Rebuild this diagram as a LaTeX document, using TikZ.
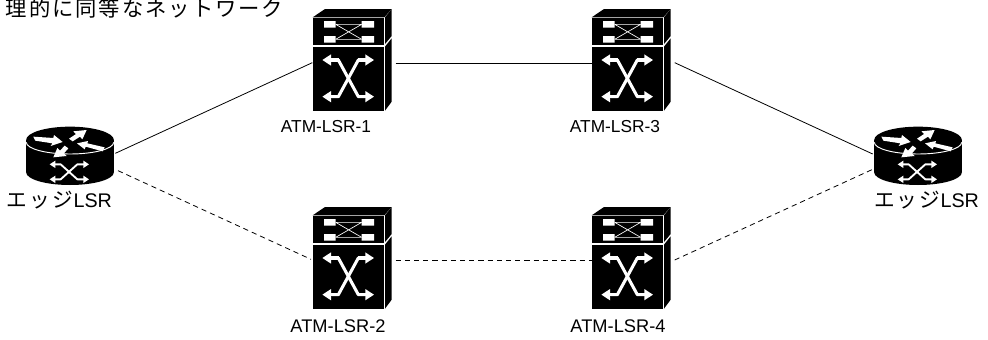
\documentclass[tikz,border=0pt]{standalone}
\usepackage{fontspec}
\setmainfont{Liberation Sans}
\newfontfamily\cjk[LetterSpace=11]{Noto Sans CJK JP}
\newfontfamily\cjkwide[LetterSpace=9]{Noto Sans CJK JP}
\usetikzlibrary{arrows.meta}
\tikzset{
  x=0.75pt,y=-0.75pt,
  iconbox/.style={inner sep=0pt,outer sep=0pt,draw=none},
  switchbox/.style={iconbox,minimum width=60pt,minimum height=76.5pt},
  routerbox/.style={iconbox,minimum width=66pt,minimum height=43.5pt},
  lbl/.style={inner sep=0pt,outer sep=0pt,font=\fontsize{13pt}{15pt}\selectfont},
  lblb/.style={inner sep=0pt,outer sep=0pt,font=\fontsize{13.7pt}{15pt}\selectfont},
  jp/.style={inner sep=0pt,outer sep=0pt,font=\fontsize{15.5pt}{17pt}\selectfont\cjk},
  jpt/.style={inner sep=0pt,outer sep=0pt,font=\fontsize{16pt}{18pt}\selectfont\cjkwide},
  link/.style={line width=0.6pt,black},
  dlink/.style={link,dash pattern=on 3.9pt off 3pt},
  wa/.style={draw=white,line width=2.3pt,-{Triangle[width=8pt,length=6.5pt]}},
  wb/.style={draw=white,line width=1.4pt,{Triangle[width=5.2pt,length=4.2pt]}-{Triangle[width=5.2pt,length=4.2pt]},line join=round},
  switchicon/.pic={
    \begin{scope}[x=0.25pt,y=-0.25pt,shift={(-189,-180)}]
      \fill[black] (68,52) -- (105,27) -- (305,27) -- (283,52) -- cycle;
      \fill[black] (285,52) -- (305,27) -- (305,108) -- (285,132) -- cycle;
      \fill[black] (285,140) -- (305,115) -- (305,305) -- (285,332) -- cycle;
      \fill[black] (68,53) rectangle (282,135);
      \fill[black] (68,140) rectangle (282,332);
      \fill[white] (102,63) rectangle (137,83) (215,63) rectangle (252,83)
                   (102,108) rectangle (137,128) (215,108) rectangle (252,128);
      \draw[white,line width=0.5pt] (137,73) -- (215,73) (137,118) -- (215,118)
                   (137,73) -- (215,118) (137,118) -- (215,73);
      \draw[wa] (148,180) -- (97,180);
      \draw[wa] (205,180) -- (252,180);
      \draw[wa] (148,290) -- (97,290);
      \draw[wa] (205,290) -- (252,290);
      \draw[white,line width=2.3pt,line join=round] (125,180) -- (145,180) -- (205,290) -- (225,290);
      \draw[white,line width=2.3pt,line join=round] (225,180) -- (205,180) -- (145,290) -- (125,290);
    \end{scope}
  },
  routericon/.pic={
    \begin{scope}[x=0.25pt,y=-0.25pt,shift={(-208,-138)}]
      \fill[black] (76.5,90) arc[start angle=180,end angle=360,x radius=131.5,y radius=40]
                   -- (339.5,187) arc[start angle=0,end angle=180,x radius=131.5,y radius=38] -- cycle;
      \draw[white,line width=0.7pt] (77,97) arc[start angle=180,end angle=0,x radius=131,y radius=35];
      \fill[white] (98,80) -- (104,92) -- (155,100) -- (150,108) -- (186,96) -- (160,75) -- (158,84) -- cycle;
      \fill[white] (258,60) -- (218,64) -- (226,72) -- (205,86) -- (216,94) -- (238,80) -- (245,88) -- cycle;
      \fill[white] (229,100) -- (262,93) -- (260,100) -- (312,112) -- (306,124) -- (255,110) -- (252,118) -- cycle;
      \fill[white] (158,142) -- (198,138) -- (190,130) -- (203,115) -- (192,107) -- (178,122) -- (170,114) -- cycle;
      \draw[wb] (147,163) -- (180,163) -- (230,208) -- (265,208);
      \draw[wb] (265,163) -- (230,163) -- (180,208) -- (147,208);
    \end{scope}
  },
}
\begin{document}
\begin{tikzpicture}
\useasboundingbox (0,0) rectangle (988,339);
\node[switchbox] (s1) at (353,60) {};
\node[switchbox] (s3) at (632,60) {};
\node[switchbox] (s2) at (353,258) {};
\node[switchbox] (s4) at (632,258) {};
\node[routerbox] (r1) at (70,156) {};
\node[routerbox] (r2) at (918,156) {};
\pic at (s1) {switchicon};
\pic at (s2) {switchicon};
\pic at (s3) {switchicon};
\pic at (s4) {switchicon};
\pic at (r1) {routericon};
\pic at (r2) {routericon};
\draw[link] ([xshift=1pt,yshift=2pt]r1.east) -- ([xshift=-0.5pt,yshift=-2pt]s1.west);
\draw[link] ([xshift=2pt,yshift=-2.2pt]s1.east) -- ([yshift=-2.2pt]s3.west);
\draw[link] ([xshift=2pt,yshift=-2pt]s3.east) -- ([xshift=-1pt,yshift=1.5pt]r2.west);
\draw[dlink] ([xshift=3pt,yshift=-11pt]r1.east) -- ([xshift=-1.5pt,yshift=-1pt]s2.west);
\draw[dlink] ([xshift=2pt,yshift=-1.5pt]s2.east) -- ([yshift=-1.5pt]s4.west);
\draw[dlink] ([xshift=2pt,yshift=-1.5pt]s4.east) -- ([xshift=-1pt,yshift=-10pt]r2.west);
\node[lbl] (l1) at (326,127) {ATM-LSR-1};
\node[lbl] (l3) at (615,127) {ATM-LSR-3};
\node[lblb] (l2) at (338,326) {ATM-LSR-2};
\node[lblb] (l4) at (618,326) {ATM-LSR-4};
\node[jp,anchor=base west] (e1) at (7,207) {エッジ{\fontspec{Liberation Sans}\fontsize{14.8pt}{16pt}\selectfont LSR}};
\node[jp,anchor=base west] (e2) at (874,207) {エッジ{\fontspec{Liberation Sans}\fontsize{14.8pt}{16pt}\selectfont LSR}};
\node[jpt,anchor=base west] (t) at (6,16.5) {理的に同等なネットワーク};
\end{tikzpicture}
\end{document}
